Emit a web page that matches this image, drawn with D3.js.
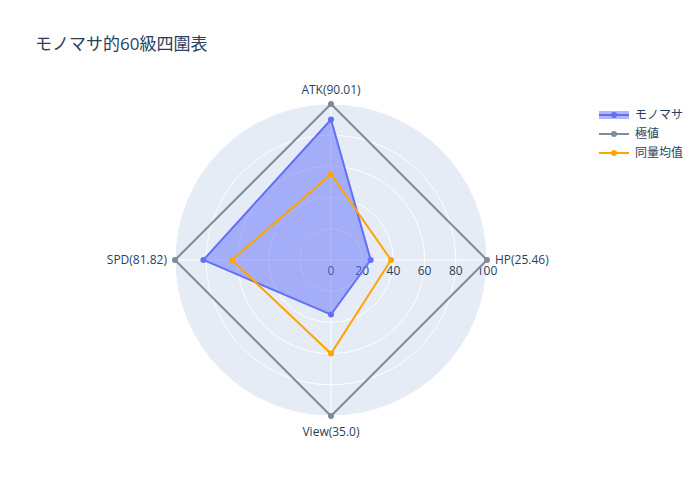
<!DOCTYPE html><html><head><meta charset="utf-8"><script src="https://cdn.jsdelivr.net/npm/d3@7"></script>
<style>body{margin:0;background:#fff}text{font-family:"Open Sans","Noto Sans CJK JP",sans-serif}</style></head><body><svg id="c" width="700" height="500"></svg><script>
const axes=["HP(25.46)","ATK(90.01)","SPD(81.82)","View(35.0)"];
const seriesNames=["モノマサ","極値","同量均值"];
const mono=[25.46,90.01,81.82,35.0];
const maxv=[100,100,100,100];
const avg=[38.5,55,63.5,60];
const ticks=[0,20,40,60,80,100];
const colors=["#636efa","#7f8c9d","#ffa500"];
const svg=d3.select("#c");
const cx=331,cy=260,R=156;
const r=d3.scaleLinear().domain([0,100]).range([0,R]);
const ang=i=>i*Math.PI/2;
const pt=(v,i)=>[cx+r(v)*Math.cos(ang(i)),cy-r(v)*Math.sin(ang(i))];
svg.append("text").attr("x",35).attr("y",50).attr("font-size",17).attr("fill","#2a3f5f").text("モノマサ的60級四圍表");
svg.append("circle").attr("cx",cx).attr("cy",cy).attr("r",R).attr("fill","#e5ecf6");
ticks.slice(1).forEach(t=>svg.append("circle").attr("cx",cx).attr("cy",cy).attr("r",r(t)).attr("fill","none").attr("stroke","#fff").attr("stroke-width",1));
axes.forEach((a,i)=>{const p=pt(100,i);svg.append("line").attr("x1",cx).attr("y1",cy).attr("x2",p[0]).attr("y2",p[1]).attr("stroke","#fff");});
ticks.forEach(t=>svg.append("text").attr("x",cx+r(t)).attr("y",cy+15).attr("text-anchor","middle").attr("font-size",12).attr("fill","#2a3f5f").text(t));
const line=d3.line();
function draw(vals,col,fill){const pts=vals.map(pt);pts.push(pts[0]);
svg.append("path").attr("d",line(pts)).attr("fill",fill?col:"none").attr("fill-opacity",fill?0.5:0).attr("stroke",col).attr("stroke-width",2);
vals.forEach((v,i)=>{const p=pt(v,i);svg.append("circle").attr("cx",p[0]).attr("cy",p[1]).attr("r",3).attr("fill",col);});}
draw(maxv,colors[1],false);draw(mono,colors[0],true);draw(avg,colors[2],false);
const lp=[[pt(100,0)[0]+8,cy+4,"start"],[cx,pt(100,1)[1]-10,"middle"],[pt(100,2)[0]-8,cy+4,"end"],[cx,pt(100,3)[1]+20,"middle"]];
axes.forEach((a,i)=>svg.append("text").attr("x",lp[i][0]).attr("y",lp[i][1]).attr("text-anchor",lp[i][2]).attr("font-size",12).attr("fill","#2a3f5f").text(a));
seriesNames.forEach((n,i)=>{const y=115+i*19,g=svg.append("g");
if(i==0)g.append("rect").attr("x",599).attr("y",y-4).attr("width",30).attr("height",8).attr("fill",colors[0]).attr("opacity",0.5);
g.append("line").attr("x1",599).attr("x2",629).attr("y1",y).attr("y2",y).attr("stroke",colors[i]).attr("stroke-width",2);
g.append("circle").attr("cx",614).attr("cy",y).attr("r",3).attr("fill",colors[i]);
g.append("text").attr("x",635).attr("y",y+4).attr("font-size",12).attr("fill","#2a3f5f").text(n);});
</script></body></html>
